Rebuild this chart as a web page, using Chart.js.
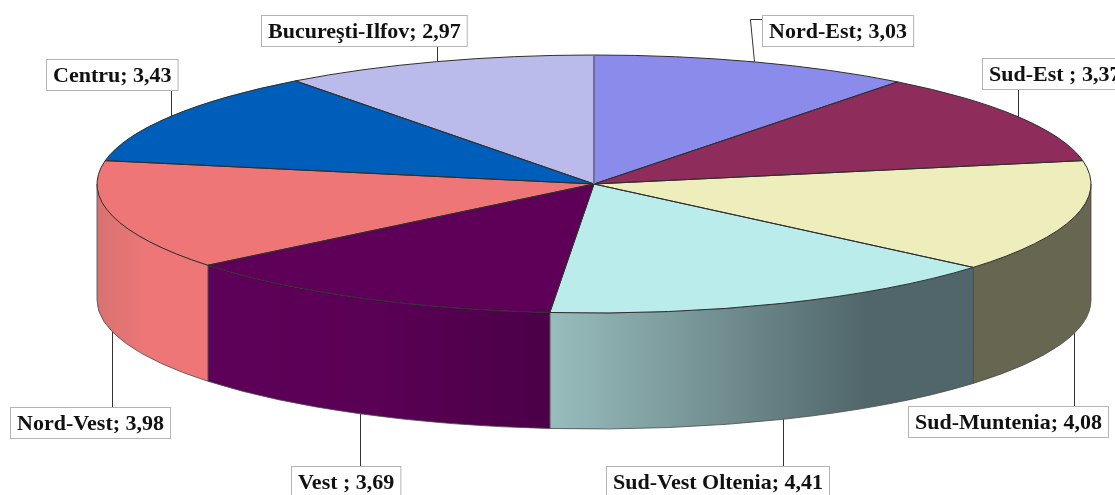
<!DOCTYPE html>
<html>
<head>
<meta charset="utf-8">
<style>
  html, body { margin: 0; padding: 0; background: #fff; overflow: hidden; }
  canvas { display: block; }
</style>
<script src="https://cdn.jsdelivr.net/npm/chart.js@4"></script>
</head>
<body>
<canvas id="chart" width="1115" height="495"></canvas>
<script>
const categories = ["Nord-Est", "Sud-Est ", "Sud-Muntenia", "Sud-Vest Oltenia", "Vest ", "Nord-Vest", "Centru", "Bucureşti-Ilfov"];
const values = [3.03, 3.37, 4.08, 4.41, 3.69, 3.98, 3.43, 2.97];

const topColors = ["#8b8beb", "#8e2d5c", "#eeedbc", "#bbecec", "#5e0058", "#ee7676", "#005ebb", "#bbbbeb"];
// side wall gradients, left to right
const wallColors = [
    null,
    null,
    [[0, "#666651"], [1, "#666651"]],
    [[0, "#98bdbd"], [0.75, "#50666a"], [1, "#50666a"]],
    [[0, "#5e0058"], [0.5, "#5a0055"], [1, "#4b0047"]],
    [[0, "#d87272"], [0.45, "#ee7676"], [1, "#ee7676"]],
    null,
    null
];

// top left corner of each label box
const labelPos = [[762, 15], [982, 58], [908, 406], [606, 466], [291, 466], [10, 407], [46, 59], [261, 15]];

const RADIUS = 497;
const TILT = 129 / 497;
const DEPTH = 116;

const labelFont = "bold 22px 'Liberation Serif'";

function labelText(i) {
    return categories[i] + "; " + values[i].toFixed(2).replace(".", ",");
}

// draws the pie walls, then flattens the library's arcs into an ellipse
const flatPie = {
    id: "flatPie",
    beforeDatasetsDraw(chart) {
        const ctx = chart.ctx;
        const arcs = chart.getDatasetMeta(0).data;
        arcs.forEach((arc, i) => {
            if (!wallColors[i]) return;
            const a0 = Math.max(arc.startAngle, 0);
            const a1 = Math.min(arc.endAngle, Math.PI);
            if (a1 <= a0) return;
            const rx = arc.outerRadius, ry = rx * TILT;
            const xLeft = arc.x + rx * Math.cos(a1);
            const xRight = arc.x + rx * Math.cos(a0);
            const grad = ctx.createLinearGradient(xLeft, 0, xRight, 0);
            wallColors[i].forEach(s => grad.addColorStop(s[0], s[1]));
            ctx.beginPath();
            ctx.ellipse(arc.x, arc.y, rx, ry, 0, a0, a1);
            ctx.ellipse(arc.x, arc.y + DEPTH, rx, ry, 0, a1, a0, true);
            ctx.closePath();
            ctx.fillStyle = grad;
            ctx.fill();
            ctx.strokeStyle = "#4a4a4a";
            ctx.lineWidth = 0.8;
            ctx.stroke();
        });
        const cy = arcs[0].y;
        ctx.save();
        ctx.translate(0, cy);
        ctx.scale(1, TILT);
        ctx.translate(0, -cy);
    },
    afterDatasetsDraw(chart) {
        const ctx = chart.ctx;
        ctx.restore();
        const arcs = chart.getDatasetMeta(0).data;
        // slice outlines, kept at even width
        ctx.strokeStyle = "#2e2e2e";
        ctx.lineWidth = 1;
        arcs.forEach(arc => {
            const rx = arc.outerRadius, ry = rx * TILT;
            ctx.beginPath();
            ctx.moveTo(arc.x, arc.y);
            ctx.ellipse(arc.x, arc.y, rx, ry, 0, arc.startAngle, arc.endAngle);
            ctx.closePath();
            ctx.stroke();
        });
        const first = arcs[0];
        ctx.strokeStyle = "#6c6ca8";
        ctx.lineWidth = 2;
        ctx.beginPath();
        ctx.moveTo(first.x, first.y);
        ctx.lineTo(first.x, first.y - first.outerRadius * TILT);
        ctx.stroke();

        // labels with leader lines
        ctx.font = labelFont;
        ctx.textBaseline = "middle";
        ctx.textAlign = "left";
        arcs.forEach((arc, i) => {
            const mid = (arc.startAngle + arc.endAngle) / 2;
            const rx = arc.outerRadius, ry = rx * TILT;
            const ax = arc.x + rx * Math.cos(mid);
            let ay = arc.y + ry * Math.sin(mid);
            const front = Math.sin(mid) > 0;
            if (front) ay += DEPTH;

            const text = labelText(i);
            const w = ctx.measureText(text).width + 14;
            const h = 32;
            const bx = labelPos[i][0], by = labelPos[i][1];

            ctx.strokeStyle = "#333";
            ctx.lineWidth = 1;
            ctx.beginPath();
            ctx.moveTo(Math.round(ax) + 0.5, ay);
            if (ax < bx) {
                // box sits right of the anchor, leader bends into its side
                ctx.lineTo(ax - 4, by + 4.5);
                ctx.lineTo(bx, by + 4.5);
            } else {
                ctx.lineTo(Math.round(ax) + 0.5, front ? by : by + h);
            }
            ctx.stroke();

            ctx.fillStyle = "#fff";
            ctx.fillRect(bx, by, w, h);
            ctx.strokeStyle = "#b4b4b4";
            ctx.strokeRect(bx + 0.5, by + 0.5, w - 1, h - 1);
            ctx.fillStyle = "#111";
            ctx.fillText(text, bx + 7, by + h / 2 + 1);
        });
    }
};

new Chart(document.getElementById("chart"), {
    type: "pie",
    data: {
        labels: categories,
        datasets: [{
            data: values,
            backgroundColor: topColors,
            borderWidth: 0,
            radius: RADIUS,
            clip: false
        }]
    },
    options: {
        responsive: false,
        animation: false,
        layout: { padding: { left: 73, bottom: 127 } },
        plugins: {
            legend: { display: false },
            tooltip: { enabled: false }
        }
    },
    plugins: [flatPie]
});
</script>
</body>
</html>
